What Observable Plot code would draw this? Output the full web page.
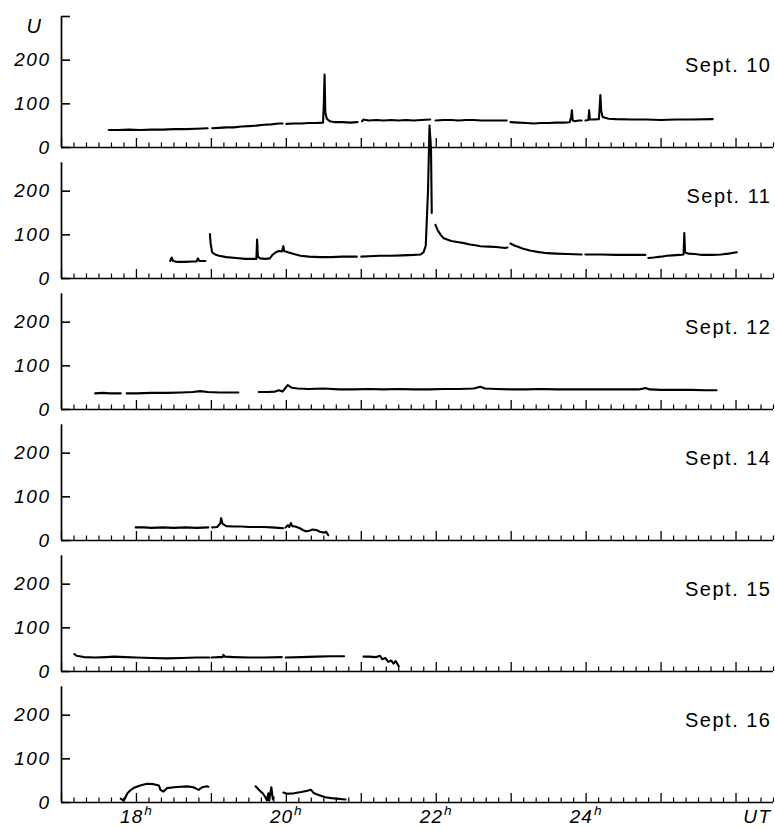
<!DOCTYPE html>
<html>
<head>
<meta charset="utf-8">
<script src="https://cdn.jsdelivr.net/npm/d3@7"></script>
<script src="https://cdn.jsdelivr.net/npm/@observablehq/plot@0.6"></script>
<style>
  html, body { margin: 0; padding: 0; background: #fff; }
  #chart { width: 775px; height: 828px; }
</style>
</head>
<body>
<div id="chart"></div>
<script>
// Panel (day) labels
const days = ["Sept. 10", "Sept. 11", "Sept. 12", "Sept. 14", "Sept. 15", "Sept. 16"];
// Top of each panel's vertical axis (in U units)
const axisTops = [300, 265, 265, 265, 265, 265];
// Y tick values and hour labels
const yTicks = [0, 100, 200];
const hourTicks = [17, 18, 19, 20, 21, 22, 23, 24, 25, 26];
const hourLabels = [18, 20, 22, 24];

// Each day: list of continuous segments of [hour UT, U]
const sept10 = [
  [[17.63,40],[17.75,40],[17.9,41],[18.05,40],[18.2,41],[18.35,41],[18.5,42],[18.65,42],[18.8,43],[18.95,44]],
  [[19.01,44],[19.1,45],[19.2,46],[19.3,46],[19.4,48],[19.5,49],[19.6,50],[19.7,52],[19.8,53],[19.9,55],[19.95,55]],
  [[20.0,54],[20.1,55],[20.2,55],[20.3,56],[20.4,56],[20.49,57],[20.5,100],[20.51,167],[20.52,80],[20.54,66],[20.58,60],[20.65,58],[20.75,58],[20.85,57],[20.95,58]],
  [[21.01,60],[21.03,64],[21.1,62],[21.2,63],[21.3,62],[21.4,63],[21.5,62],[21.6,63],[21.7,62],[21.8,63],[21.92,64]],
  [[21.99,62],[22.1,63],[22.2,63],[22.3,62],[22.4,63],[22.5,63],[22.6,62],[22.7,62],[22.8,62],[22.94,62]],
  [[22.99,58],[23.1,57],[23.2,56],[23.3,55],[23.4,56],[23.5,56],[23.6,57],[23.7,57],[23.78,58],[23.8,70],[23.81,85],[23.82,62],[23.85,60],[23.9,62],[23.94,62]],
  [[23.99,62],[24.03,63],[24.04,85],[24.05,64],[24.1,64],[24.17,65],[24.18,90],[24.19,120],[24.2,85],[24.22,70],[24.3,66],[24.4,65],[24.6,64],[24.8,64],[25.0,63],[25.2,64],[25.4,64],[25.69,65]]
];
const sept11 = [
  [[18.45,40],[18.47,48],[18.49,40],[18.55,38],[18.65,38],[18.75,39],[18.8,39],[18.82,46],[18.84,40],[18.92,40]],
  [[18.98,102],[18.99,80],[19.01,60],[19.05,55],[19.1,52],[19.2,49],[19.33,47],[19.45,45],[19.55,45],[19.6,45],[19.61,89],[19.62,50],[19.65,46],[19.72,45],[19.78,46],[19.82,55],[19.86,60],[19.9,63],[19.94,62],[19.96,74],[19.97,63],[20.02,60],[20.1,56],[20.19,52],[20.3,50],[20.45,49],[20.6,49],[20.75,50],[20.94,50]],
  [[21.0,50],[21.1,51],[21.25,52],[21.4,52],[21.55,53],[21.7,54],[21.79,55],[21.83,60],[21.86,75],[21.89,200],[21.91,350],[21.93,300],[21.94,150]],
  [[21.99,123],[22.02,110],[22.06,100],[22.1,92],[22.2,86],[22.3,83],[22.37,81],[22.45,78],[22.52,76],[22.59,74],[22.7,73],[22.8,72],[22.92,70],[22.95,71]],
  [[22.99,80],[23.05,75],[23.1,72],[23.16,68],[23.25,64],[23.35,61],[23.48,58],[23.6,57],[23.75,56],[23.94,55]],
  [[23.99,55],[24.2,55],[24.4,54],[24.6,54],[24.79,54]],
  [[24.83,47],[24.9,48],[25.0,50],[25.08,52],[25.15,53],[25.25,54],[25.3,55],[25.31,104],[25.32,60],[25.36,57],[25.45,56],[25.55,54],[25.69,54],[25.8,55],[25.9,57],[26.01,60]]
];
const sept12 = [
  [[17.45,37],[17.55,38],[17.65,37],[17.79,37]],
  [[17.87,37],[18.0,37],[18.2,38],[18.4,38],[18.6,39],[18.75,40],[18.85,42],[18.95,40],[19.1,39],[19.25,39],[19.36,39]],
  [[19.63,40],[19.75,40],[19.85,41],[19.9,44],[19.95,41],[19.99,50],[20.02,56],[20.07,50],[20.15,48],[20.3,47],[20.5,48],[20.7,46],[20.9,46],[21.1,47],[21.3,46],[21.5,47],[21.7,46],[21.9,46],[22.1,47],[22.3,47],[22.5,48],[22.59,52],[22.65,48],[22.8,47],[23.0,46],[23.2,46],[23.4,47],[23.6,46],[23.8,46],[23.95,46],[24.1,46],[24.3,46],[24.5,46],[24.7,46],[24.79,49],[24.85,46],[25.0,45],[25.2,45],[25.4,45],[25.6,44],[25.74,44]]
];
const sept14 = [
  [[17.99,30],[18.1,30],[18.2,29],[18.35,30],[18.5,29],[18.65,30],[18.8,29],[18.96,30]],
  [[19.01,30],[19.08,31],[19.12,40],[19.13,51],[19.15,38],[19.2,33],[19.3,32],[19.4,32],[19.5,31],[19.6,31],[19.7,31],[19.8,30],[19.9,29],[19.96,28]],
  [[19.99,30],[20.02,35],[20.04,31],[20.06,40],[20.08,33],[20.12,32],[20.18,28],[20.22,24],[20.26,21],[20.3,22],[20.35,25],[20.4,24],[20.45,20],[20.5,18],[20.53,20],[20.56,12]]
];
const sept15 = [
  [[17.17,40],[17.2,36],[17.3,33],[17.45,32],[17.6,33],[17.7,34],[17.85,33],[18.0,32],[18.2,31],[18.4,30],[18.6,31],[18.8,32],[18.97,32]],
  [[19.0,32],[19.1,33],[19.15,33],[19.16,38],[19.18,34],[19.3,33],[19.5,32],[19.7,32],[19.94,33]],
  [[19.99,32],[20.2,33],[20.4,34],[20.6,35],[20.77,35]],
  [[21.03,34],[21.1,34],[21.2,33],[21.25,36],[21.28,28],[21.32,31],[21.36,22],[21.4,25],[21.43,18],[21.46,24],[21.5,12]]
];
const sept16 = [
  [[17.79,9],[17.83,4],[17.88,21],[17.92,28],[17.96,33],[18.05,39],[18.14,43],[18.23,42],[18.3,39],[18.32,29],[18.36,25],[18.41,33],[18.5,35],[18.59,36],[18.68,37],[18.76,35],[18.83,29],[18.88,35],[18.94,37],[18.96,36]],
  [[19.59,37],[19.64,28],[19.69,20],[19.72,12],[19.74,5],[19.76,21],[19.77,4],[19.8,35],[19.82,7],[19.83,12]],
  [[19.96,23],[20.01,20],[20.1,21],[20.2,24],[20.28,27],[20.33,29],[20.37,21],[20.43,17],[20.52,12],[20.6,10],[20.79,7]]
];

const series = [sept10, sept11, sept12, sept14, sept15, sept16];
const rows = [];
series.forEach((segs, i) => segs.forEach((seg, j) => seg.forEach(([t, u]) =>
  rows.push({day: days[i], seg: i + "-" + j, t, u}))));
const frames = days.map((d, i) => ({day: d, top: axisTops[i]}));
const minorTicks = d3.range(17, 26.5001, 1 / 6).filter(v => Math.abs(v - Math.round(v)) > 0.01);

const font = "'Liberation Sans', Arial, Helvetica, sans-serif";

const chart = Plot.plot({
  width: 775,
  height: 828,
  marginLeft: 61,
  marginRight: 2,
  marginTop: 13,
  marginBottom: 24,
  x: {domain: [17, 26.5]},
  y: {domain: [0, 300]},
  fy: {domain: days, padding: 0, axis: null},
  style: {fontFamily: font, background: "#fff", color: "#000", overflow: "visible"},
  marks: [
    Plot.ruleY([0], {stroke: "#000", strokeWidth: 1.7}),
    Plot.ruleX(frames, {x: 17, y1: 0, y2: "top", fy: "day", stroke: "#000", strokeWidth: 1.7}),
    Plot.axisY(yTicks, {tickSize: -9, tickPadding: 20, strokeWidth: 1.6, fontSize: 19, fontStyle: "italic", label: null}),
    Plot.axisY([300], {tickSize: -9, strokeWidth: 1.6, fill: "none", label: null, facetAnchor: "top"}),
    Plot.axisX(hourTicks, {tickSize: -9, strokeWidth: 1.3, fill: "none", label: null, facetAnchor: null}),
    Plot.axisX(minorTicks, {tickSize: -4.5, strokeWidth: 1.2, fill: "none", label: null, facetAnchor: null}),
    Plot.axisX(hourLabels, {tickSize: 0, tickPadding: 7, fontSize: 19, fontStyle: "italic", label: null}),
    Plot.line(rows, {x: "t", y: "u", z: "seg", fy: "day", stroke: "#000", strokeWidth: 2.1}),
    Plot.text(days, {fy: d => d, text: d => d, frameAnchor: "top-right", textAnchor: "end", lineAnchor: "middle", dx: -2, dy: 49, fontSize: 20}),
    Plot.text([{day: "Sept. 10", label: "U"}], {fy: "day", text: "label", frameAnchor: "top-left", textAnchor: "end", lineAnchor: "middle", dx: -19, dy: 10, fontSize: 20, fontStyle: "italic"}),
    Plot.text([{day: "Sept. 16", label: "UT"}], {fy: "day", text: "label", frameAnchor: "bottom-right", textAnchor: "end", lineAnchor: "top", dx: -2, dy: 7, fontSize: 19, fontStyle: "italic"})
  ]
});

const svg = d3.select(chart);
// wider letter spacing, as in the reference typography
svg.selectAll('g[aria-label="y-axis tick label"] text').style("letter-spacing", "1.5px");
svg.selectAll('g[aria-label="text"] text').style("letter-spacing", "1.5px");
// superscript "h" on hour labels
svg.selectAll('g[aria-label="x-axis tick label"] text').each(function () {
  const t = d3.select(this);
  const s = t.text();
  if (!s) return;
  t.text(s).style("letter-spacing", "1px");
  t.append("tspan").attr("dy", "-0.55em").attr("dx", "1").attr("font-size", "0.72em").text("h");
});

document.getElementById("chart").appendChild(chart);
</script>
</body>
</html>
